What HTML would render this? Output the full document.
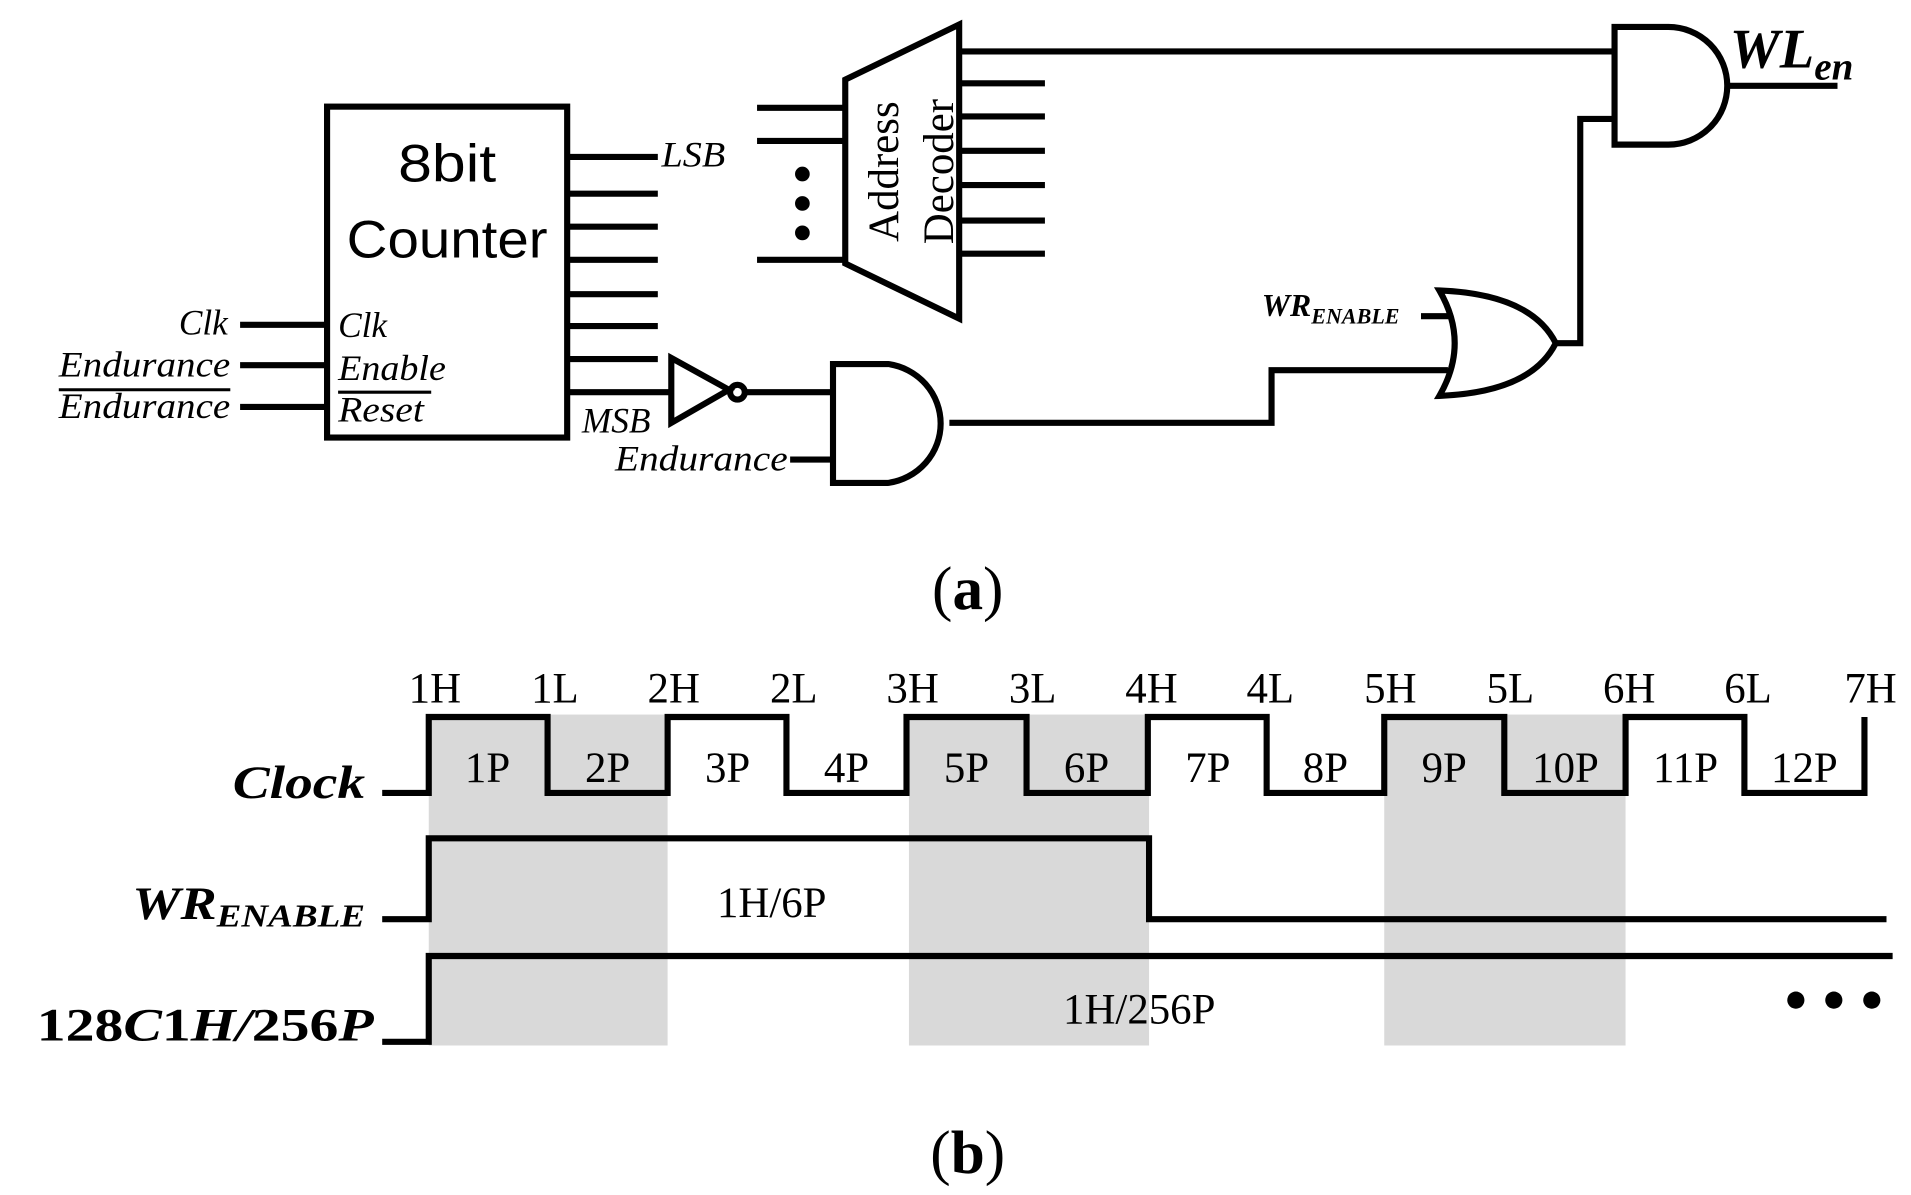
<!DOCTYPE html>
<html><head><meta charset="utf-8"><style>html,body{margin:0;padding:0;background:#fff}svg{display:block}</style></head>
<body>
<svg width="1911" height="1195" viewBox="0 0 1560 975" preserveAspectRatio="none" xmlns="http://www.w3.org/2000/svg">
<g fill="#d9d9d9"><rect x="350" y="583" width="195" height="270"/><rect x="742" y="583" width="196" height="270"/><rect x="1130" y="583" width="197" height="270"/></g>
<g stroke="#000" stroke-width="5" fill="none">
<rect x="267" y="87" width="196" height="270"/>
<path d="M463 128H537M463 158H537M463 185H537M463 212H537M463 240H537M463 266H537M463 293H537M463 320H548"/>
<path d="M196 265H267M196 298H267M196 332H267"/>
<path d="M548 292V345L595 318Z"/><circle cx="602" cy="320" r="6"/><path d="M608 320H680"/>
<path d="M680 297H725A50 49 0 0 1 725 394H680Z"/><path d="M645 375H680"/>
<path d="M775 345H1038V302H1182"/>
<path d="M1175 237Q1250 240 1270 280Q1250 320 1175 323Q1200 280 1175 237Z"/><path d="M1160 258H1186"/>
<path d="M1270 280H1290V97H1318"/>
<path d="M690 65L783 20V260L690 215Z"/>
<path d="M618 88H690M618 115H690M618 212H690"/>
<path d="M783 68H853M783 95H853M783 123H853M783 151H853M783 180H853M783 207H853"/>
<path d="M783 42H1318"/>
<path d="M1318 22H1362A48 48 0 0 1 1362 118H1318Z"/><path d="M1410 70H1500"/>
<path d="M312 647H350V585H447V647H545V585H642V647H740V585H838V647H937V585H1034V647H1130V585H1228V647H1327V585H1424V647H1522V585"/>
<path d="M312 750H350V684H938V750H1540"/>
<path d="M312 850H350V780H1545"/>
<path d="M48 318H188M276 320H352" stroke-width="2.5"/>
</g>
<g fill="#000"><circle cx="655" cy="142" r="6"/><circle cx="655" cy="166" r="6"/><circle cx="655" cy="190" r="6"/>
<circle cx="1466" cy="816" r="7"/><circle cx="1497" cy="816" r="7"/><circle cx="1528" cy="816" r="7"/></g>
<g font-family="Liberation Sans, sans-serif" font-size="43" text-anchor="middle"><text x="365" y="148" textLength="80" lengthAdjust="spacingAndGlyphs">8bit</text><text x="365" y="210" textLength="164" lengthAdjust="spacingAndGlyphs">Counter</text></g>
<g font-family="Liberation Serif, serif" font-style="italic" font-size="29">
<text x="540" y="136" textLength="52" lengthAdjust="spacingAndGlyphs">LSB</text><text x="475" y="353" textLength="56" lengthAdjust="spacingAndGlyphs">MSB</text>
<text x="146" y="273" textLength="40" lengthAdjust="spacingAndGlyphs">Clk</text><text x="48" y="307" textLength="140" lengthAdjust="spacingAndGlyphs">Endurance</text><text x="48" y="341" textLength="140" lengthAdjust="spacingAndGlyphs">Endurance</text>
<text x="276" y="275" textLength="40" lengthAdjust="spacingAndGlyphs">Clk</text><text x="276" y="310" textLength="88" lengthAdjust="spacingAndGlyphs">Enable</text><text x="276" y="344" textLength="70" lengthAdjust="spacingAndGlyphs">Reset</text>
<text x="502" y="384" textLength="141" lengthAdjust="spacingAndGlyphs">Endurance</text>
<text x="1030" y="258" font-weight="bold" font-size="26">WR<tspan font-size="18" dy="6">ENABLE</tspan></text>
</g>
<g font-family="Liberation Serif, serif" font-size="35">
<text transform="translate(733 140) rotate(-90)" text-anchor="middle">Address</text>
<text transform="translate(778 140) rotate(-90)" text-anchor="middle">Decoder</text>
</g>
<text x="1412" y="55" font-family="Liberation Serif, serif" font-weight="bold" font-style="italic" font-size="46">WL<tspan font-size="32" dy="10">en</tspan></text>
<g font-family="Liberation Serif, serif" font-size="50" text-anchor="middle"><text x="790" y="497">(<tspan font-weight="bold">a</tspan>)</text><text x="790" y="957">(<tspan font-weight="bold">b</tspan>)</text></g>
<g font-family="Liberation Serif, serif" font-size="35" text-anchor="middle">
<text x="355" y="573">1H</text><text x="453" y="573">1L</text><text x="550" y="573">2H</text><text x="648" y="573">2L</text><text x="745" y="573">3H</text><text x="843" y="573">3L</text><text x="940" y="573">4H</text><text x="1037" y="573">4L</text><text x="1135" y="573">5H</text><text x="1233" y="573">5L</text><text x="1330" y="573">6H</text><text x="1427" y="573">6L</text><text x="1527" y="573">7H</text>
<text x="398" y="638">1P</text><text x="496" y="638">2P</text><text x="594" y="638">3P</text><text x="691" y="638">4P</text><text x="789" y="638">5P</text><text x="887" y="638">6P</text><text x="986" y="638">7P</text><text x="1082" y="638">8P</text><text x="1179" y="638">9P</text><text x="1278" y="638">10P</text><text x="1376" y="638">11P</text><text x="1473" y="638">12P</text>
<text x="630" y="748">1H/6P</text><text x="930" y="835">1H/256P</text>
</g>
<g font-family="Liberation Serif, serif" font-weight="bold" font-style="italic" font-size="38">
<text x="190" y="651" textLength="108" lengthAdjust="spacingAndGlyphs">Clock</text>
<text x="108" y="750" textLength="190" lengthAdjust="spacingAndGlyphs">WR<tspan font-size="26" dy="6">ENABLE</tspan></text>
<text x="30" y="849" textLength="275" lengthAdjust="spacingAndGlyphs"><tspan font-style="normal">128</tspan>C<tspan font-style="normal">1</tspan>H/<tspan font-style="normal">256</tspan>P</text>
</g>
</svg>
</body></html>
